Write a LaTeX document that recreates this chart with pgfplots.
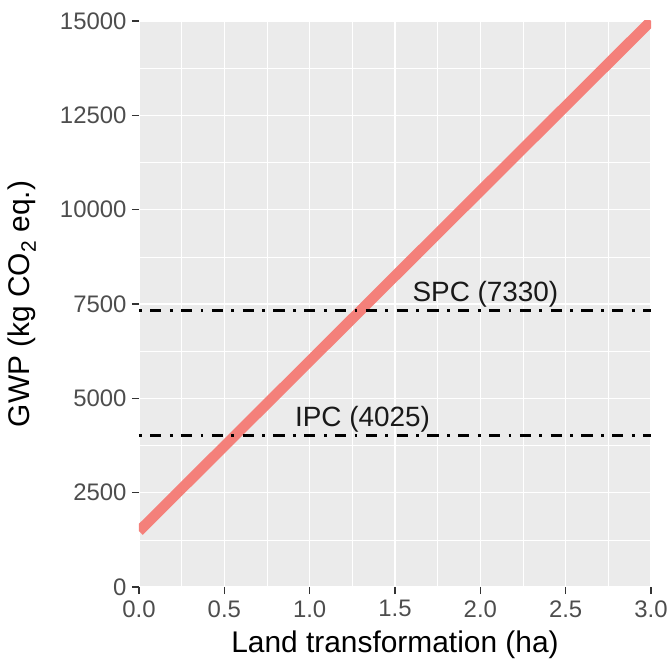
\documentclass[border=0pt]{standalone}
\usepackage{fontspec}
\setmainfont{Liberation Sans}
\usepackage{pgfplots}
\pgfplotsset{compat=1.18}
\definecolor{ggbg}{HTML}{EBEBEB}
\definecolor{ggtick}{HTML}{333333}
\definecolor{gglab}{HTML}{4D4D4D}
\definecolor{ggred}{RGB}{244,128,122}
\begin{document}
\begin{tikzpicture}
\begin{axis}[
  scale only axis, width=512bp, height=566bp,
  xmin=0, xmax=3, ymin=0, ymax=15000,
  axis background/.style={fill=ggbg},
  axis line style={draw=none},
  grid=both,
  major grid style={white, line width=1.3bp},
  minor grid style={white, line width=0.65bp},
  xtick={0,0.5,1,1.5,2,2.5,3},
  xticklabels={0.0,0.5,1.0,1.5,2.0,2.5,3.0},
  minor xtick={0.25,0.75,1.25,1.75,2.25,2.75},
  ytick={0,2500,5000,7500,10000,12500,15000},
  minor ytick={1250,3750,6250,8750,11250,13750},
  xtick pos=bottom, ytick pos=left,
  tick align=outside,
  major tick length=7bp, minor tick length=0bp,
  tick style={color=ggtick, line width=1.2bp},
  scaled y ticks=false,
  /pgf/number format/1000 sep={},
  /pgf/number format/assume math mode=true,
  ticklabel style={font=\fontsize{24}{27}\selectfont, text=gglab},
  xticklabel style={yshift=-3bp},
  yticklabel style={xshift=-2bp},
  label style={font=\fontsize{30}{34}\selectfont},
  xlabel={Land transformation (ha)},
  ylabel={GWP (kg CO\textsubscript{2} eq.)},
  xlabel style={at={(axis description cs:0.5,-0.1017)}, anchor=center},
  ylabel style={at={(axis description cs:-0.2285,0.5)}, anchor=center},
  clip=true,
]
\addplot[draw=ggred, line width=10.5bp] coordinates {(0,1480) (3,15000)};
\addplot[black, line width=2.8bp, dash pattern=on 2.8bp off 8.4bp on 11.2bp off 8.4bp] coordinates {(0,7330) (3,7330)};
\addplot[black, line width=2.8bp, dash pattern=on 2.8bp off 8.4bp on 11.2bp off 8.4bp] coordinates {(0,4025) (3,4025)};
\node[anchor=base, yshift=9bp, font=\fontsize{28}{32}\selectfont, text=black!90] at (axis cs:2.03,7330) {SPC (7330)};
\node[anchor=base, yshift=9bp, font=\fontsize{28}{32}\selectfont, text=black!90] at (axis cs:1.31,4025) {IPC (4025)};
\end{axis}
\pgfresetboundingbox
\path[use as bounding box] ([shift={(-139bp,-75bp)}]current axis.south west) rectangle ([shift={(21bp,21bp)}]current axis.north east);
\end{tikzpicture}
\end{document}
